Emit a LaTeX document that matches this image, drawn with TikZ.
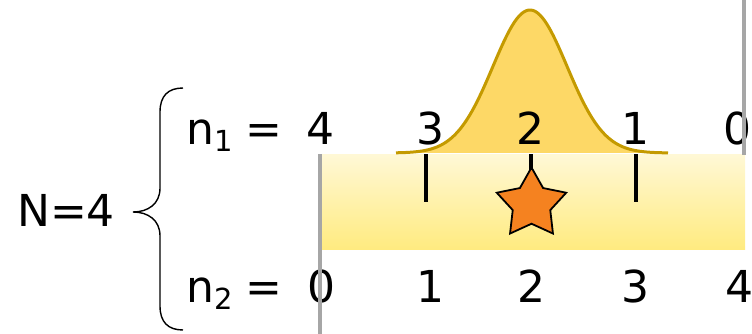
\documentclass[tikz,border=0pt]{standalone}
\usepackage{fontspec}
\setmainfont{DejaVu Sans}
\usetikzlibrary{shapes.geometric}
\definecolor{bandtop}{HTML}{FFF8D6}
\definecolor{bandbot}{HTML}{FFEB80}
\definecolor{bellfill}{HTML}{FDD866}
\definecolor{bellline}{HTML}{C49A00}
\definecolor{axisgray}{HTML}{A6A6A6}
\definecolor{starorange}{HTML}{F58220}
\tikzset{
  lbl/.style={inner sep=0pt, anchor=base, font=\fontsize{44}{50}\selectfont},
  grayline/.style={draw=axisgray, line width=4pt},
  tickline/.style={draw=black, line width=3.5pt},
}
\begin{document}
\begin{tikzpicture}[x=1pt,y=-1pt]
\useasboundingbox (0,0) rectangle (752,334);
% band
\shade[top color=bandtop, bottom color=bandbot] (321,154) rectangle (745,249);
% ticks
\draw[tickline] (426,154) -- (426,202);
\draw[tickline] (636,154) -- (636,202);
\draw[tickline] (531,154) -- (531,170);
% star
\node[star, star points=5, star point ratio=1.85, minimum size=73pt, inner sep=0pt,
      draw=black, line width=1.8pt, fill=starorange] (star) at (531.5,204) {};
% bell
\fill[bellfill] plot[domain=396:668, samples=120, smooth] (\x, {153 - 143*exp(-0.5*((\x-530)/37)^2)}) -- cycle;
\draw[bellline, line width=3pt] plot[domain=396:668, samples=120, smooth] (\x, {153 - 143*exp(-0.5*((\x-530)/37)^2)});
% labels
\node[lbl, anchor=base west] (N) at (17,226) {N=4};
\node[lbl, anchor=base west] (n1) at (186,144) {n\raisebox{-7pt}{\fontsize{29}{30}\selectfont 1}};
\node[lbl] (eq1) at (264,144) {=};
\node[lbl, anchor=base west] (n2) at (186,302) {n\raisebox{-7pt}{\fontsize{29}{30}\selectfont 2}};
\node[lbl] (eq2) at (264,302) {=};
\node[lbl] (t4) at (320,144) {4};
\node[lbl] (t3) at (430,144) {3};
\node[lbl] (t2) at (530,144) {2};
\node[lbl] (t1) at (635,144) {1};
\node[lbl] (t0) at (737,144) {0};
\node[lbl] (b0) at (321,302) {0};
\node[lbl] (b1) at (430,302) {1};
\node[lbl] (b2) at (531,302) {2};
\node[lbl] (b3) at (635,302) {3};
\node[lbl] (b4) at (739,302) {4};
% gray axis lines
\draw[grayline] (320,154) -- (320,334);
\draw[grayline] (744,0) -- (744,155);
% brace
\draw[line width=1.4pt] (183,88) .. controls (168,88) and (160,96) .. (160,112) -- (160,188)
  .. controls (160,204) and (148,212) .. (133,212)
  .. controls (148,212) and (160,220) .. (160,236) -- (160,306)
  .. controls (160,322) and (168,330) .. (183,330);
\end{tikzpicture}
\end{document}
